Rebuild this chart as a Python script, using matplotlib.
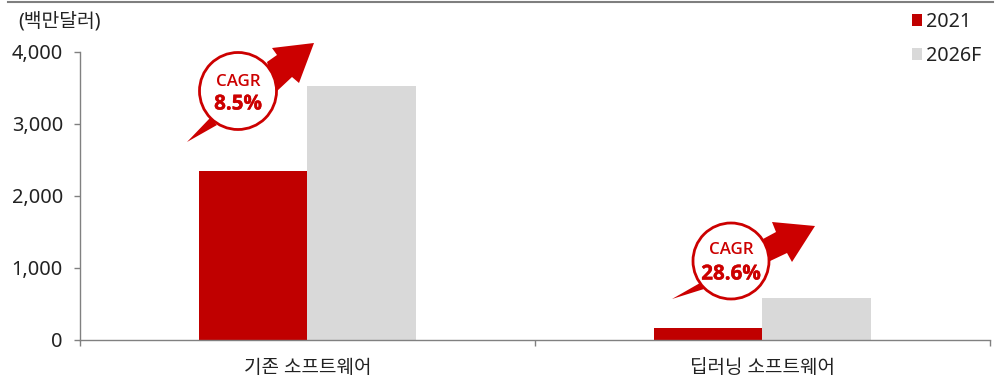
import numpy as np
import matplotlib
matplotlib.use('Agg')
import matplotlib.pyplot as plt
import matplotlib.patheffects as pe
from matplotlib.patches import Polygon, Circle
from matplotlib.transforms import Affine2D

plt.rcParams['font.family'] = ['Noto Sans', 'Noto Sans CJK KR', 'DejaVu Sans']

categories = ['기존 소프트웨어', '딥러닝 소프트웨어']
values_2021 = [2350, 165]
values_2026 = [3525, 580]
series_names = ['2021', '2026F']
y_ticks = [0, 1000, 2000, 3000, 4000]
cagr_labels = ['8.5%', '28.6%']

W, H = 1003, 379
RED = '#C00000'
GREY = '#D9D9D9'
BADGE = '#CC0000'
TEXT = '#222222'
AXIS = '#808080'

fig = plt.figure(figsize=(W / 100, H / 100), dpi=100)
ax = fig.add_axes([80 / W, 1 - 339.5 / H, 910 / W, 287.5 / H])

x = np.arange(len(categories))
width = 0.238
ax.bar(x - width / 2, values_2021, width, color=RED, label=series_names[0])
ax.bar(x + width / 2, values_2026, width, color=GREY, label=series_names[1])

ax.set_xlim(-0.5, 1.5)
ax.set_ylim(0, 4000)
ax.set_yticks(y_ticks)
ax.set_yticklabels([f'{v:,}' for v in y_ticks], fontsize=14.4, color=TEXT)
ax.set_xticks([-0.5, 0.5, 1.5])
ax.set_xticklabels([])
ax.set_xticks(x, minor=True)
ax.set_xticklabels(categories, minor=True, fontsize=13.7, color=TEXT)
ax.tick_params(axis='x', which='minor', length=0, pad=13)
ax.tick_params(axis='both', which='major', length=4.3, width=1, color=AXIS)
ax.tick_params(axis='y', pad=8)
for s in ['top', 'right']:
    ax.spines[s].set_visible(False)
for s in ['left', 'bottom']:
    ax.spines[s].set_color(AXIS)
    ax.spines[s].set_linewidth(1)

fig.legend(loc='upper left', bbox_to_anchor=(908 / W, 1 - 8 / H), frameon=False,
           fontsize=14.2, handlelength=0.52, handleheight=0.52, handletextpad=0.2,
           labelspacing=0.72, labelcolor=TEXT, borderpad=0.2, borderaxespad=0)

# 상단 구분선, 단위
px = Affine2D().scale(1, -1).translate(0, H)
fig.add_artist(plt.Line2D([8, 993], [2, 2], color='#7F7F7F', lw=1.5, transform=px))
fig.text(18 / W, 1 - 22 / H, '(백만달러)', fontsize=13.9, color=TEXT, va='center')

# CAGR 화살표 (픽셀 좌표)
arrows = [
    dict(center=(238, 91), r=38.5, dy=(-9, 13),
         tail=[(187, 142), (210, 118), (217, 125)],
         head=[(267, 62), (277, 55), (272, 48), (314, 43), (299, 83), (292, 77), (276, 92)]),
    dict(center=(731, 261), r=38, dy=(-11, 13),
         tail=[(672, 299), (700, 283), (704, 289)],
         head=[(763, 239), (776, 232), (772, 222), (815, 226), (792, 262), (787, 253), (768, 262)]),
]
thick = [pe.withStroke(linewidth=0.3, foreground=BADGE)]
for a, pct in zip(arrows, cagr_labels):
    fig.add_artist(Polygon(a['tail'], closed=True, fc=BADGE, ec='none', transform=px))
    fig.add_artist(Polygon(a['head'], closed=True, fc=BADGE, ec='none', transform=px))
    fig.add_artist(Circle(a['center'], a['r'], fc='white', ec=BADGE, lw=2, transform=px))
    cx, cy = a['center']
    fig.text(cx / W, 1 - (cy + a['dy'][0]) / H, 'CAGR', fontsize=12.2, color=BADGE, family='Open Sans',
             ha='center', va='center', fontweight='semibold')
    fig.text(cx / W, 1 - (cy + a['dy'][1]) / H, pct, fontsize=14.8, color=BADGE, family='Open Sans',
             ha='center', va='center', fontweight='bold', path_effects=thick)

fig.savefig('out.png', dpi=100)
